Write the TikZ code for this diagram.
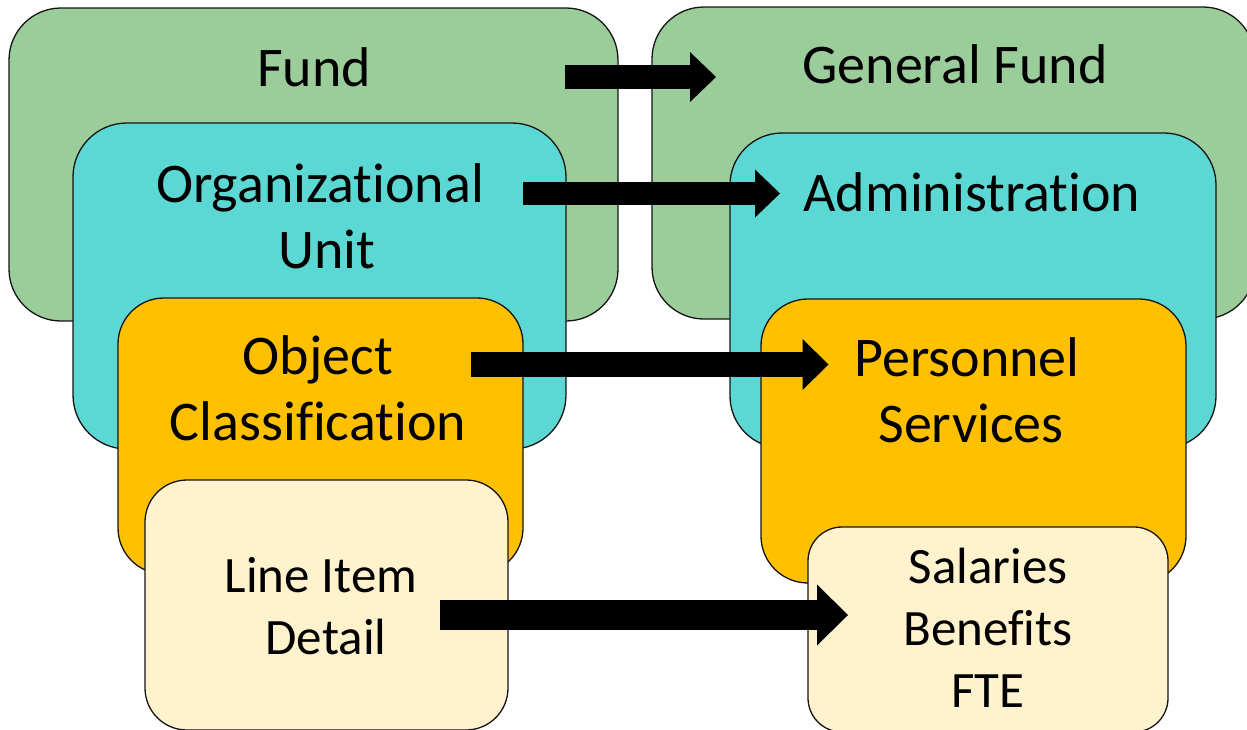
\documentclass[tikz,border=0pt]{standalone}
\usepackage{fontspec}
\setmainfont[Ligatures=NoCommon]{Carlito}
\usetikzlibrary{arrows.meta}
\definecolor{fundgreen}{RGB}{155,205,155}
\definecolor{orgcyan}{RGB}{92,216,212}
\definecolor{objgold}{RGB}{255,192,0}
\definecolor{itemcream}{RGB}{255,242,204}
\definecolor{edgecol}{RGB}{20,20,20}
\begin{document}
\begin{tikzpicture}[x=1pt,y=-1pt,
  box/.style={draw=edgecol, line width=1.3pt, inner sep=0pt, rectangle},
  bigtxt/.style={anchor=base, inner sep=0pt, font=\fontsize{56}{66}\selectfont},
  smalltxt/.style={anchor=base, inner sep=0pt, font=\fontsize{51}{62}\selectfont},
  blockarrow/.style={draw=black, line width=#1}
]
\useasboundingbox (0,0) rectangle (1247,729);

% left column
\node[box, fill=fundgreen, minimum width=609pt, minimum height=313pt, rounded corners=52pt] (fundB) at (313.5,164.5) {};
\node[box, fill=orgcyan, minimum width=493pt, minimum height=326pt, rounded corners=54pt] (orgB) at (319.5,286) {};
\node[box, fill=objgold, minimum width=405pt, minimum height=276pt, rounded corners=46pt] (objB) at (320.5,436) {};
\node[box, fill=itemcream, minimum width=363pt, minimum height=250pt, rounded corners=42pt] (lineB) at (326.5,605) {};

% right column
\node[box, fill=fundgreen, minimum width=603pt, minimum height=312pt, rounded corners=52pt] (gfB) at (953.5,163) {};
\node[box, fill=orgcyan, minimum width=486pt, minimum height=315pt, rounded corners=52pt] (admB) at (973,290.5) {};
\node[box, fill=objgold, minimum width=425pt, minimum height=284pt, rounded corners=47pt] (perB) at (973.5,441) {};
\node[box, fill=itemcream, minimum width=360pt, minimum height=205pt, rounded corners=34pt] (salB) at (988,629.5) {};

% texts
\node[bigtxt] (fundT) at (314,86) {Fund};
\node[bigtxt] (orgT) at (320,202) {\begin{tabular}[t]{@{}c@{}}Organizational\\\hspace*{14pt}Unit\end{tabular}};
\node[bigtxt] (objT) at (318,374) {\begin{tabular}[t]{@{}c@{}}Object\\Classification\end{tabular}};
\node[smalltxt] (lineT) at (321,592) {\begin{tabular}[t]{@{}c@{}}Line Item\\\hspace*{10pt}Detail\end{tabular}};
\node[bigtxt] (gfT) at (955,83) {General Fund};
\node[bigtxt] (admT) at (972,211) {Administration};
\node[bigtxt] (perT) at (967,376) {\begin{tabular}[t]{@{}c@{}}Personnel\\\hspace*{8pt}Services\end{tabular}};
\node[smalltxt] (salT) at (988,583) {\begin{tabular}[t]{@{}c@{}}Salaries\\Benefits\\FTE\end{tabular}};

% arrow ends
\coordinate (a1s) at (565,77);   \coordinate (a1e) at (716,77);
\coordinate (a2s) at (523,193.5); \coordinate (a2e) at (780,193.5);
\coordinate (a3s) at (471,364.5); \coordinate (a3e) at (828.5,364.5);
\coordinate (a4s) at (440,615);   \coordinate (a4e) at (848,615);

\draw[blockarrow=24pt, -{Triangle[length=26pt,width=50pt,line width=0pt]}] (a1s) -- (a1e);
\draw[blockarrow=23pt, -{Triangle[length=25pt,width=48pt,line width=0pt]}] (a2s) -- (a2e);
\draw[blockarrow=25pt, -{Triangle[length=26pt,width=51pt,line width=0pt]}] (a3s) -- (a3e);
\draw[blockarrow=30pt, -{Triangle[length=31pt,width=61pt,line width=0pt]}] (a4s) -- (a4e);
\end{tikzpicture}
\end{document}
